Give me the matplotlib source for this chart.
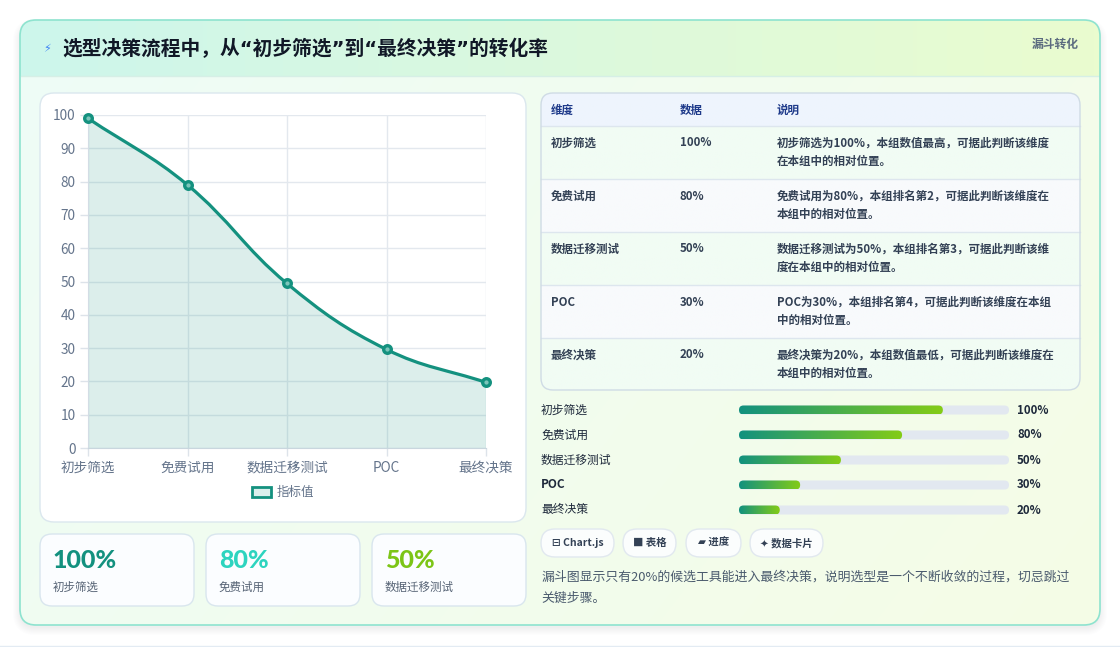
import numpy as np
import matplotlib.pyplot as plt
import matplotlib.colors as mcolors
from matplotlib.patches import FancyBboxPatch, Patch, PathPatch
from matplotlib.path import Path

plt.rcParams['font.family'] = ['Noto Sans CJK SC', 'DejaVu Sans']

# data
stages = ['初步筛选', '免费试用', '数据迁移测试', 'POC', '最终决策']
line_values = [99, 79, 49.4, 29.6, 19.7]   # as plotted in the line chart
pct_values = [100, 80, 50, 30, 20]          # as shown in table / bars / cards
notes = [
    ['初步筛选为100%，本组数值最高，可据此判断该维度', '在本组中的相对位置。'],
    ['免费试用为80%，本组排名第2，可据此判断该维度在', '本组中的相对位置。'],
    ['数据迁移测试为50%，本组排名第3，可据此判断该维', '度在本组中的相对位置。'],
    ['POC为30%，本组排名第4，可据此判断该维度在本组', '中的相对位置。'],
    ['最终决策为20%，本组数值最低，可据此判断该维度在', '本组中的相对位置。'],
]
table_head = ['维度', '数据', '说明']
card_colors = ['#13917f', '#2dd4bf', '#7cc516']
buttons = ['⊟ Chart.js', '■ 表格', '▰ 进度', '✦ 数据卡片']
title = '选型决策流程中，从“初步筛选”到“最终决策”的转化率'
badge = '漏斗转化'
summary = ['漏斗图显示只有20%的候选工具能进入最终决策，说明选型是一个不断收敛的过程，切忌跳过', '关键步骤。']

TEAL = '#14917f'
W, H = 1120, 647
fig = plt.figure(figsize=(W / 100, H / 100), dpi=100)
fig.patch.set_facecolor('white')
bg = fig.add_axes([0, 0, 1, 1])
bg.set_xlim(0, W)
bg.set_ylim(H, 0)
bg.set_autoscale_on(False)
bg.axis('off')


def rbox(x, y, w, h, r, fc='white', ec='none', lw=1, z=1, alpha=1):
    p = FancyBboxPatch((x, y), w, h, boxstyle=f'round,pad=0,rounding_size={r}',
                       fc=fc, ec=ec, lw=lw, zorder=z, alpha=alpha)
    bg.add_patch(p)
    return p


def grad_fill(patch, x, y, w, h, c0, c1, z, diag=False):
    cmap = mcolors.LinearSegmentedColormap.from_list('g', [c0, c1])
    if diag:
        gx, gy = np.meshgrid(np.linspace(0, 1, 200), np.linspace(0, 1, 120))
        arr = gx * 0.7 + gy * 0.3
    else:
        arr = np.linspace(0, 1, 256)[None, :]
    im = bg.imshow(arr, extent=(x, x + w, y + h, y), cmap=cmap, aspect='auto',
                   interpolation='bilinear', zorder=z, vmin=0, vmax=1)
    im.set_clip_path(patch)


# shadow + main card
for i in range(8):
    rbox(20 - i, 24 - i + 2, 1080 + 2 * i, 602 + 2 * i, 16 + i, fc='#64748b', z=0.5, alpha=0.012)
card = rbox(20, 20, 1080, 605, 16, fc='none', ec='#8ee3cf', lw=1.2, z=3)
grad_fill(card, 20, 20, 1080, 605, '#eefcf7', '#f5fde6', 1, diag=True)
grad_fill(card, 20, 20, 1080, 56, '#cdf6ec', '#eafccf', 1.6)
bg.plot([21, 1099], [76, 76], color='#d6efe6', lw=1, zorder=2)
bg.plot([0, W], [645.5, 645.5], color='#e3ebf3', lw=1, zorder=2)

bg.text(47, 49, '⚡', fontsize=8, color='#3b82f6', ha='center', va='center', zorder=5,
        family=['DejaVu Sans'])
bg.text(62, 49, title, fontsize=14.2, fontweight='bold', color='#111827', va='center', zorder=5,
        family=['DejaVu Sans', 'Noto Sans CJK SC'])
bg.text(1079, 44, badge, fontsize=8.5, fontweight='bold', color='#5b6b7f', ha='right',
        va='center', zorder=5)

# line chart panel
rbox(40, 93, 486, 429, 14, fc='white', ec='#dbe7ee', lw=1, z=2)
ax = fig.add_axes([88 / W, 1 - 448 / H, (486 - 88) / W, (448 - 115) / H])
ax.set_facecolor('none')
ax.set_zorder(4)
xs = np.arange(len(stages))
ax.set_xlim(0, len(stages) - 1)
ax.set_ylim(0, 100)
ax.set_xticks(xs)
ax.set_xticklabels(stages)
ax.set_yticks(np.arange(0, 101, 10))
ax.tick_params(axis='both', colors='#dde3ea', labelcolor='#64748b', labelsize=9.8,
               length=6, width=1, pad=3)
ax.grid(True, color='#e3e8ee', lw=1)
for s in ['top', 'right']:
    ax.spines[s].set_visible(False)
ax.spines['bottom'].set_color('#c9d6de')
ax.spines['left'].set_color('#d3dde5')

# smooth curve (chart.js style bezier, tension 0.4)
pts = ax.transData.transform(np.column_stack([xs, line_values]))
t = 0.4
verts, codes = [pts[0]], [Path.MOVETO]
cps = []
for i in range(len(pts)):
    p0 = pts[i - 1] if i > 0 else pts[i]
    p1 = pts[i]
    p2 = pts[i + 1] if i < len(pts) - 1 else pts[i]
    d01 = np.hypot(*(p1 - p0))
    d12 = np.hypot(*(p2 - p1))
    s01 = d01 / (d01 + d12)
    s12 = d12 / (d01 + d12)
    cps.append((p1 - t * s01 * (p2 - p0), p1 + t * s12 * (p2 - p0)))
for i in range(len(pts) - 1):
    verts += [cps[i][1], cps[i + 1][0], pts[i + 1]]
    codes += [Path.CURVE4] * 3
inv = ax.transData.inverted()
dverts = inv.transform(np.array(verts))
line_path = Path(dverts, codes)
fill_path = Path(np.vstack([dverts, [[xs[-1], 0], [xs[0], 0], dverts[0]]]),
                 codes + [Path.LINETO, Path.LINETO, Path.CLOSEPOLY])
ax.add_patch(PathPatch(fill_path, fc=TEAL, ec='none', alpha=0.15, zorder=2))
ax.add_patch(PathPatch(line_path, fc='none', ec=TEAL, lw=2.3, zorder=3))
ax.plot(xs, line_values, 'o', ms=5.5, mfc='#7cc5ba', mec=TEAL, mew=2.4, zorder=4, clip_on=False)
ax.legend(handles=[Patch(fc='#dbefec', ec=TEAL, lw=2, label='指标值')], loc='center',
          bbox_to_anchor=(0.49, -0.135), frameon=False, fontsize=9, labelcolor='#64748b',
          handlelength=1.5, handleheight=0.9, handletextpad=0.5)

# stat cards
for i in range(3):
    x0 = 40 + i * 166
    rbox(x0, 534, 154, 72, 12, fc='#fbfdff', ec='#d9e6ee', lw=1, z=2)
    bg.text(x0 + 13, 560, f'{pct_values[i]}%', fontsize=18, fontweight='black',
            color=card_colors[i], va='center', zorder=5, family=['Lato', 'DejaVu Sans'])
    bg.text(x0 + 13, 587, stages[i], fontsize=8.3, color='#556274', va='center', zorder=5)

# table
tx, ty, tw = 541, 93, 539
row_h = 53
tbl = rbox(tx, ty, tw, 297, 12, fc='none', ec='#cfdbe5', lw=1, z=3)
grad_fill(tbl, tx, ty, tw, 33, '#eef4fd', '#eef5fd', 2)
row_cols = ['#f1fcf4', '#f8fafc']
for r in range(len(stages)):
    y0 = 126 + r * row_h
    grad_fill(tbl, tx, y0, tw, row_h, row_cols[r % 2], row_cols[r % 2], 2)
    bg.plot([tx, tx + tw], [y0, y0], color='#dde6ee', lw=1, zorder=2.5)
col_x = [551, 680, 777]
for c, lab in enumerate(table_head):
    bg.text(col_x[c], 110, lab, fontsize=8.3, fontweight='bold', color='#1e3a8a',
            va='center', zorder=5)
for r in range(len(stages)):
    y0 = 126 + r * row_h
    bg.text(col_x[0], y0 + 17, stages[r], fontsize=8.3, fontweight='bold', color='#334155',
            va='center', zorder=5)
    bg.text(col_x[1], y0 + 17, f'{pct_values[r]}%', fontsize=8.3, fontweight='bold',
            color='#334155', va='center', zorder=5)
    bg.text(col_x[2], y0 + 17, notes[r][0], fontsize=8.3, fontweight='bold', color='#334155',
            va='center', zorder=5)
    bg.text(col_x[2], y0 + 35, notes[r][1], fontsize=8.3, fontweight='bold', color='#334155',
            va='center', zorder=5)

# progress bars
bx, bw, bh = 739, 270, 9
scale = 0.755
for r in range(len(stages)):
    yc = 410 + r * 25
    bg.text(541, yc, stages[r], fontsize=8.5, color='#1e293b', va='center', zorder=5,
            fontweight='bold' if stages[r] == 'POC' else 'medium')
    rbox(bx, yc - bh / 2, bw, bh, bh / 2, fc='#e2e8f0', z=3)
    fw = bw * pct_values[r] / 100 * scale
    fp = rbox(bx, yc - bh / 2, fw, bh, bh / 2, fc='none', z=3.5)
    grad_fill(fp, bx, yc - bh / 2, fw, bh, '#12917f', '#84cc16', 3.4)
    bg.text(1017, yc, f'{pct_values[r]}%', fontsize=8.3, fontweight='bold', color='#1e293b',
            va='center', zorder=5)

# buttons
btn_x = [541, 623, 686, 750]
btn_w = [73, 53, 55, 73]
for b, lab in enumerate(buttons):
    rbox(btn_x[b], 529, btn_w[b], 28, 14, fc='#fbfdfd', ec='#e1e8ef', lw=1, z=3)
    bg.text(btn_x[b] + btn_w[b] / 2, 543, lab, fontsize=7.5, fontweight='bold',
            color='#334155', ha='center', va='center', zorder=5)

bg.text(541, 577, summary[0], fontsize=9.3, color='#4b5b6e', va='center', zorder=5)
bg.text(541, 598, summary[1], fontsize=9.3, color='#4b5b6e', va='center', zorder=5)

bg.set_xlim(0, W)
bg.set_ylim(H, 0)
fig.savefig('out.png', dpi=100)
